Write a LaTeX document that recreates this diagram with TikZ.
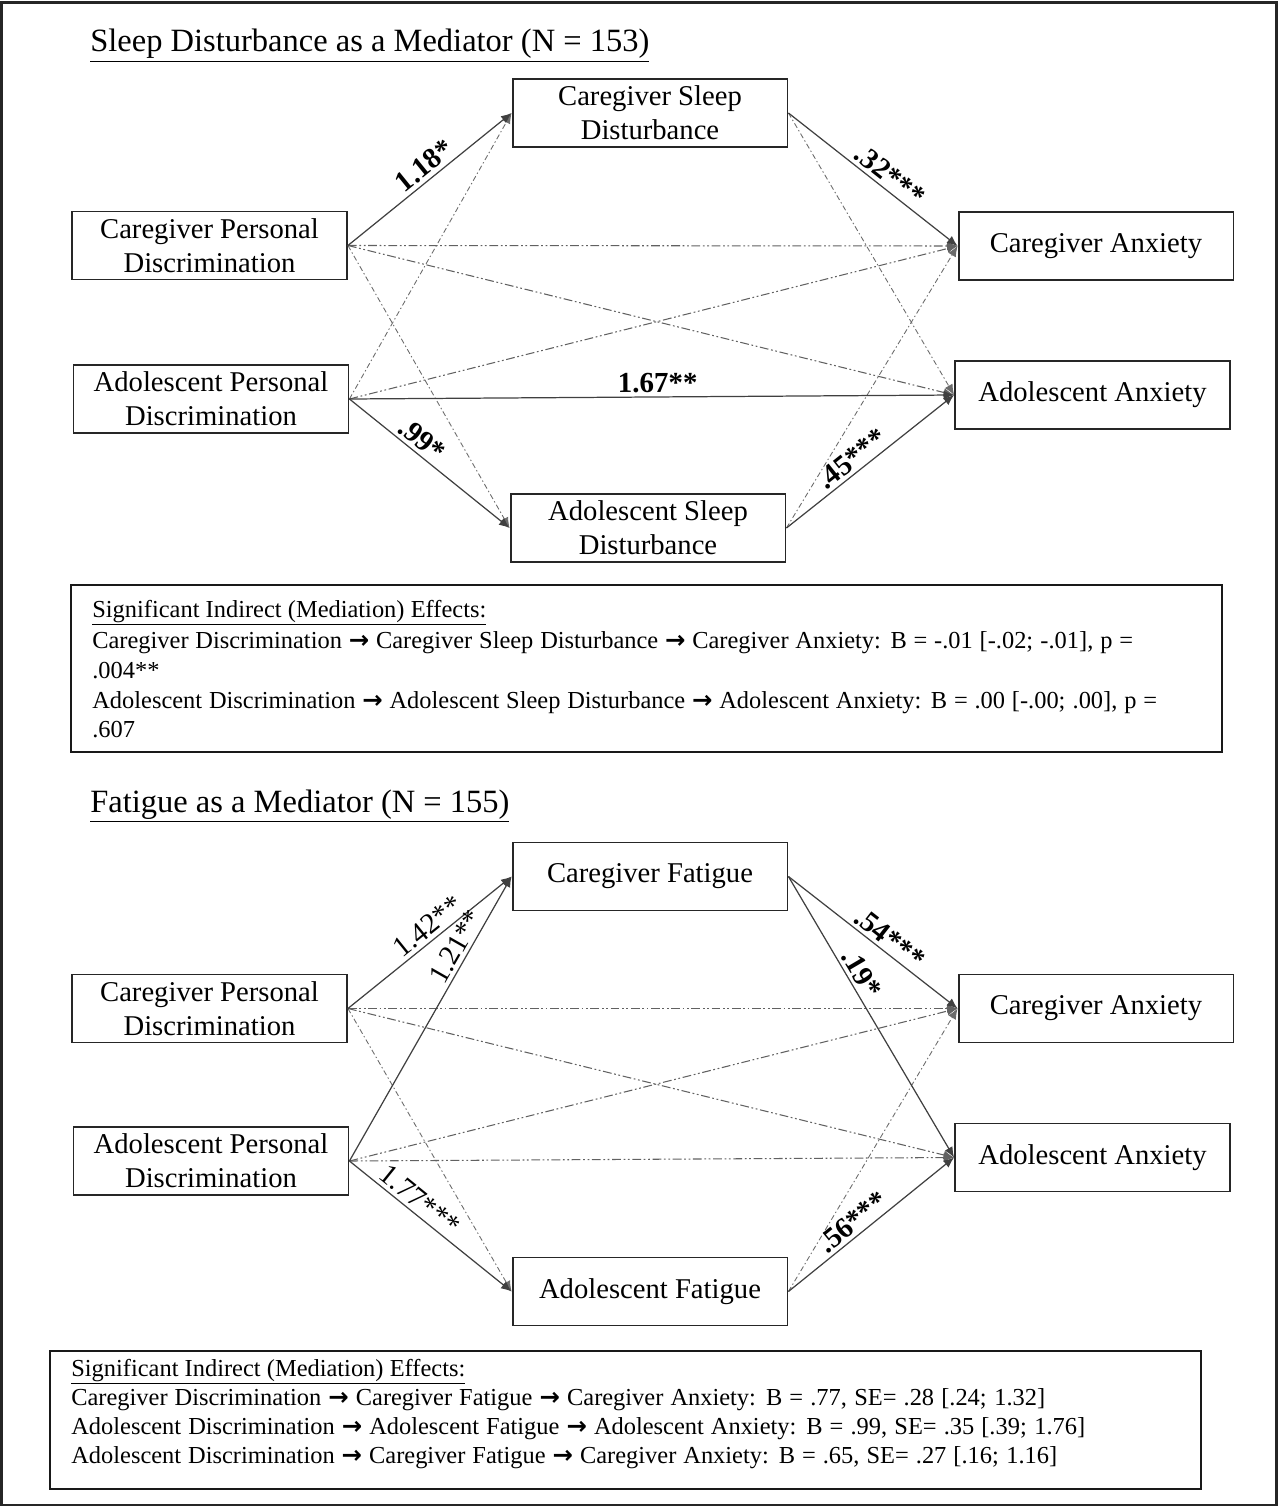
\documentclass[tikz,border=0pt]{standalone}
\usepackage{fontspec}
\setmainfont{Liberation Serif}
\newfontfamily\arrowfont{DejaVu Sans}
\newcommand\rarr{{\arrowfont\bfseries →}}
\usetikzlibrary{arrows.meta}
\begin{document}
\begin{tikzpicture}[x=0.02cm,y=-0.02cm,
 box/.style={draw=black!85,line width=1.1pt,minimum width=5.5cm,minimum height=1.36cm,inner sep=0pt,align=center,font=\fontsize{16.3}{19.5}\selectfont},
 sumbox/.style={draw=black!90,line width=1.1pt,minimum width=23.02cm,inner sep=0pt},
 sig/.style={draw=black!75,line width=0.7pt,-{Latex[length=6pt,width=5pt]}},
 nsa/.style={draw=black!62,line width=0.6pt,dash pattern=on 5pt off 1.5pt on 1pt off 1.5pt on 1pt off 1.5pt,-{Latex[length=6pt,width=5pt]}},
 nsb/.style={draw=black!58,line width=0.5pt,dash pattern=on 3pt off 1.5pt on 0.8pt off 1.5pt,-{Latex[length=6pt,width=5pt]}},
 lab/.style={font=\fontsize{16.5}{19}\selectfont\bfseries,sloped,above,inner sep=2pt},
 labr/.style={font=\fontsize{16.5}{19}\selectfont,sloped,above,inner sep=2pt},
 title/.style={anchor=base west,inner sep=0pt,font=\fontsize{18.5}{22}\selectfont},
 txt/.style={anchor=base west,inner sep=0pt,font=\fontsize{13.9}{16.5}\selectfont}
]
\useasboundingbox (0,0) rectangle (1279,1507);
\draw[line width=1.2pt,black!85] (1.5,2.5) rectangle (1276.5,1505);

% ---------- top diagram ----------
\node[title] (t1) at (90,52) {\underline{Sleep Disturbance as a Mediator (N = 153)}};

\node[box] (csd) at (650,113) {Caregiver Sleep\\Disturbance};
\node[box] (cpd) at (209.5,245.5) {Caregiver Personal\\Discrimination};
\node[box] (ca) at (1096,246) {Caregiver Anxiety};
\node[box] (apd) at (211,399) {Adolescent Personal\\Discrimination};
\node[box] (aa) at (1092.5,395) {Adolescent Anxiety};
\node[box] (asd) at (648,528) {Adolescent Sleep\\Disturbance};

\draw[nsa] (cpd.east) -- (ca.west);
\draw[nsa] (cpd.east) -- (aa.west);
\draw[nsb] (cpd.east) -- (asd.west);
\draw[nsb] (apd.east) -- (csd.west);
\draw[nsa] (apd.east) -- (ca.west);
\draw[nsb] (csd.east) -- (aa.west);
\draw[nsb] (asd.east) -- (ca.west);

\draw[sig] (cpd.east) -- node[lab,pos=0.52] {1.18*} (csd.west);
\draw[sig] (csd.east) -- node[lab,pos=0.55] {.32***} (ca.west);
\draw[sig] (apd.east) -- node[lab,pos=0.51] {1.67**} (aa.west);
\draw[sig] (apd.east) -- node[lab,pos=0.40] {.99*} (asd.west);
\draw[sig] (asd.east) -- node[lab,pos=0.44] {.45***} (aa.west);

\node[sumbox,minimum height=3.34cm] (s1) at (646.5,668.5) {};
\node[txt] (s1a) at (92,617) {\underline{\makebox[7.88cm][s]{Significant Indirect (Mediation) Effects:}}};
\node[txt] (s1b) at (92,648) {\makebox[20.82cm][s]{Caregiver Discrimination \rarr\ Caregiver Sleep Disturbance \rarr\ Caregiver Anxiety: B = -.01 [-.02; -.01], p =}};
\node[txt] (s1c) at (92,678) {.004**};
\node[txt] (s1d) at (92,708) {\makebox[21.3cm][s]{Adolescent Discrimination \rarr\ Adolescent Sleep Disturbance \rarr\ Adolescent Anxiety: B = .00 [-.00; .00], p =}};
\node[txt] (s1e) at (92,737) {.607};

% ---------- bottom diagram ----------
\node[title] (t2) at (90,812) {\underline{Fatigue as a Mediator (N = 155)}};

\node[box] (cf) at (650,876.5) {Caregiver Fatigue};
\node[box] (cpd2) at (209.5,1008.5) {Caregiver Personal\\Discrimination};
\node[box] (ca2) at (1096,1008.5) {Caregiver Anxiety};
\node[box] (apd2) at (211,1161) {Adolescent Personal\\Discrimination};
\node[box] (aa2) at (1092.5,1157.5) {Adolescent Anxiety};
\node[box] (af) at (650,1291.5) {Adolescent Fatigue};

\draw[nsa] (cpd2.east) -- (ca2.west);
\draw[nsa] (cpd2.east) -- (aa2.west);
\draw[nsb] (cpd2.east) -- (af.west);
\draw[nsa] (apd2.east) -- (ca2.west);
\draw[nsa] (apd2.east) -- (aa2.west);
\draw[nsb] (af.east) -- (ca2.west);

\draw[sig] (cpd2.east) -- node[labr,pos=0.54] {1.42**} (cf.west);
\draw[sig] (apd2.east) -- node[labr,pos=0.73] {1.21**} (cf.west);
\draw[sig] (apd2.east) -- node[labr,pos=0.38] {1.77***} (af.west);
\draw[sig] (cf.east) -- node[lab,pos=0.55] {.54***} (ca2.west);
\draw[sig] (cf.east) -- node[lab,pos=0.37] {.19*} (aa2.west);
\draw[sig] (af.east) -- node[lab,pos=0.44] {.56***} (aa2.west);

\node[sumbox,minimum height=2.76cm] (s2) at (625.5,1420) {};
\node[txt] (s2a) at (71,1376) {\underline{\makebox[7.88cm][s]{Significant Indirect (Mediation) Effects:}}};
\node[txt] (s2b) at (71,1405) {\makebox[19.48cm][s]{Caregiver Discrimination \rarr\ Caregiver Fatigue \rarr\ Caregiver Anxiety: B = .77, SE= .28 [.24; 1.32]}};
\node[txt] (s2c) at (71,1434) {\makebox[20.28cm][s]{Adolescent Discrimination \rarr\ Adolescent Fatigue \rarr\ Adolescent Anxiety: B = .99, SE= .35 [.39; 1.76]}};
\node[txt] (s2d) at (71,1463) {\makebox[19.72cm][s]{Adolescent Discrimination \rarr\ Caregiver Fatigue \rarr\ Caregiver Anxiety: B = .65, SE= .27 [.16; 1.16]}};
\end{tikzpicture}
\end{document}
